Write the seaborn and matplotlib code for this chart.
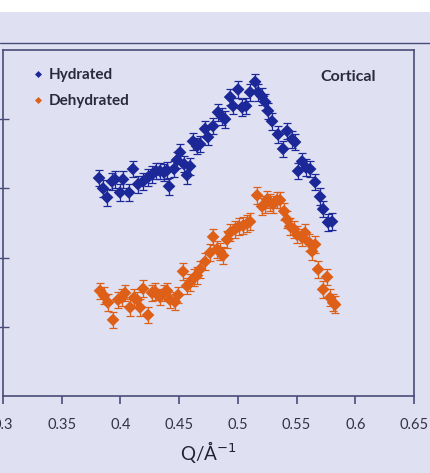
import numpy as np
import pandas as pd
import matplotlib
matplotlib.use("Agg")
import matplotlib.pyplot as plt
from matplotlib.lines import Line2D
import seaborn as sns

# Scattered intensity vs. momentum transfer Q for cortical bone
q_hydrated = [0.3818, 0.3852, 0.3886, 0.3928, 0.3954, 0.3997, 0.4022, 0.4073, 0.4107, 0.4150,
              0.4193, 0.4235, 0.4269, 0.4303, 0.4337, 0.4371, 0.4397, 0.4414, 0.4457, 0.4482,
              0.4508, 0.4542, 0.4567, 0.4593, 0.4618, 0.4652, 0.4678, 0.4721, 0.4746, 0.4789,
              0.4831, 0.4865, 0.4891, 0.4934, 0.4959, 0.5002, 0.5036, 0.5070, 0.5104, 0.5147,
              0.5172, 0.5206, 0.5232, 0.5257, 0.5291, 0.5342, 0.5385, 0.5419, 0.5462, 0.5487,
              0.5513, 0.5547, 0.5581, 0.5615, 0.5658, 0.5700, 0.5726, 0.5768, 0.5802]
i_hydrated = [3.15, 3.00, 2.87, 3.10, 3.13, 2.94, 3.13, 2.94, 3.28, 3.06,
              3.10, 3.16, 3.20, 3.25, 3.25, 3.23, 3.26, 3.03, 3.28, 3.41,
              3.52, 3.35, 3.19, 3.32, 3.68, 3.61, 3.64, 3.86, 3.74, 3.90,
              4.10, 4.04, 4.00, 4.32, 4.19, 4.43, 4.17, 4.19, 4.39, 4.54,
              4.39, 4.33, 4.25, 4.12, 3.97, 3.78, 3.57, 3.83, 3.71, 3.67,
              3.25, 3.39, 3.30, 3.28, 3.09, 2.88, 2.70, 2.51, 2.52]

q_dehydrated = [0.3826, 0.3860, 0.3894, 0.3937, 0.3980, 0.4014, 0.4039, 0.4082, 0.4116, 0.4141,
                0.4167, 0.4193, 0.4235, 0.4269, 0.4295, 0.4337, 0.4371, 0.4397, 0.4422, 0.4465,
                0.4491, 0.4533, 0.4567, 0.4593, 0.4627, 0.4652, 0.4678, 0.4721, 0.4763, 0.4789,
                0.4823, 0.4848, 0.4874, 0.4908, 0.4934, 0.4976, 0.5010, 0.5044, 0.5078, 0.5104,
                0.5164, 0.5206, 0.5232, 0.5249, 0.5274, 0.5300, 0.5334, 0.5359, 0.5394, 0.5419,
                0.5445, 0.5479, 0.5504, 0.5547, 0.5572, 0.5606, 0.5632, 0.5658, 0.5683, 0.5726,
                0.5760, 0.5785, 0.5811, 0.5828]
i_dehydrated = [1.52, 1.45, 1.35, 1.10, 1.39, 1.42, 1.49, 1.28, 1.42, 1.39,
                1.28, 1.55, 1.17, 1.49, 1.51, 1.43, 1.49, 1.52, 1.39, 1.36,
                1.46, 1.80, 1.59, 1.64, 1.71, 1.74, 1.83, 1.94, 2.07, 2.30,
                2.12, 2.09, 2.03, 2.26, 2.36, 2.41, 2.45, 2.46, 2.49, 2.52,
                2.90, 2.74, 2.77, 2.84, 2.80, 2.77, 2.83, 2.83, 2.67, 2.55,
                2.45, 2.41, 2.33, 2.29, 2.36, 2.22, 2.09, 2.19, 1.83, 1.54,
                1.72, 1.42, 1.35, 1.32]

intensity_err = 0.12
series_names = ["Hydrated", "Dehydrated"]
x_ticks = [0.3, 0.35, 0.4, 0.45, 0.5, 0.55, 0.6, 0.65]
x_tick_labels = ["0.3", "0.35", "0.4", "0.45", "0.5", "0.55", "0.6", "0.65"]

colors = {"Hydrated": "#1c2898", "Dehydrated": "#de5f18"}
bg = "#dfe1f3"
frame = "#4a4c78"

df = pd.concat([
    pd.DataFrame({"Q": q_hydrated, "I": i_hydrated, "sample": series_names[0]}),
    pd.DataFrame({"Q": q_dehydrated, "I": i_dehydrated, "sample": series_names[1]}),
], ignore_index=True)

sns.set_theme(style="ticks")
plt.rcParams["font.family"] = ["Lato", "DejaVu Sans"]

fig = plt.figure(figsize=(4.30, 4.73), dpi=100, facecolor=bg)
ax = fig.add_axes([3 / 430, 1 - 396 / 473, 411 / 430, 346 / 473])
ax.set_facecolor(bg)

# white strip along the top edge and the rule above the plot frame
fig.add_artist(plt.Rectangle((0, 1 - 12 / 473), 1, 12 / 473, transform=fig.transFigure,
                             facecolor="white", edgecolor="none", zorder=0))
fig.add_artist(Line2D([0, 1], [1 - 43 / 473, 1 - 43 / 473], transform=fig.transFigure,
                      color=frame, lw=1.0))

for name in series_names:
    sub = df[df["sample"] == name]
    ax.errorbar(sub["Q"], sub["I"], yerr=intensity_err, fmt="none", ecolor=colors[name],
                elinewidth=0.9, capsize=3.2, capthick=0.9, zorder=2)

sns.scatterplot(data=df, x="Q", y="I", hue="sample", hue_order=series_names, palette=colors,
                marker="D", s=42, edgecolor="none", linewidth=0, ax=ax, zorder=3)

ax.set_xlim(0.3, 0.65)
ax.set_ylim(0, 5)
ax.set_xticks(x_ticks)
ax.set_xticklabels(x_tick_labels, fontsize=10.5, color="#333344")
ax.set_yticks([1, 2, 3, 4])
ax.set_yticklabels([])
ax.tick_params(axis="x", direction="out", length=6, width=1.2, color=frame, pad=10)
ax.tick_params(axis="y", direction="inout", length=8, width=1.0, color=frame)
for sp in ax.spines.values():
    sp.set_color(frame)
    sp.set_linewidth(1.2)

ax.set_xlabel("Q/Å$^{-1}$", fontsize=13.5, color="#222233", labelpad=5)
ax.set_ylabel("")

ax.legend(loc="upper left", bbox_to_anchor=(0.070, 0.948), frameon=False,
          prop={"weight": "bold", "size": 11}, markerscale=0.55,
          handlelength=0.8, handletextpad=0.3, labelspacing=0.78,
          borderpad=0, borderaxespad=0, labelcolor="#2a2a3a")

ax.text(0.773, 0.922, "Cortical", transform=ax.transAxes, fontsize=11.5, fontweight="bold",
        color="#2a2a3a", va="center", ha="left")

fig.savefig("out.png", dpi=100, facecolor=fig.get_facecolor())
